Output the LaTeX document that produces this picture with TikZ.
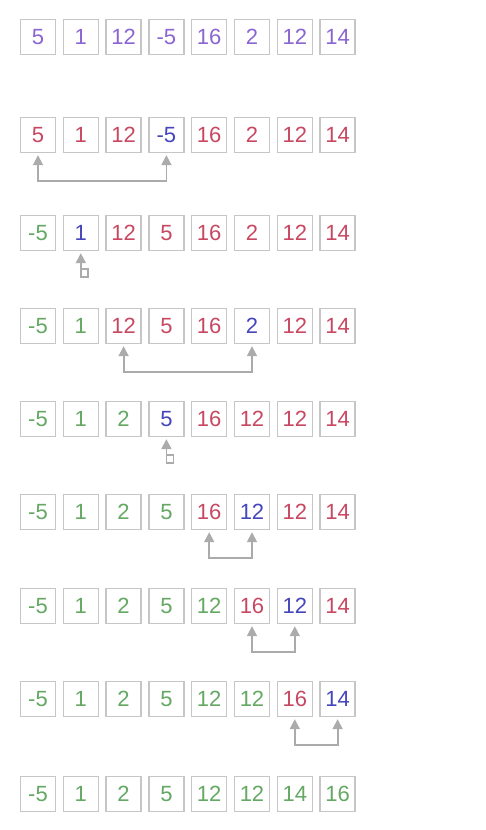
\documentclass[tikz,border=0pt]{standalone}
\usepackage{fontspec}
\setmainfont{Liberation Sans}
\usetikzlibrary{arrows.meta}
\definecolor{cpur}{HTML}{8A66D2}
\definecolor{cred}{HTML}{C84862}
\definecolor{cblu}{HTML}{4646BC}
\definecolor{cgrn}{HTML}{64A864}
\definecolor{cbox}{HTML}{C6C6C6}
\definecolor{carr}{HTML}{ABABAB}
\tikzset{
  cell/.style={draw=cbox, line width=1.4pt, minimum width=35pt, minimum height=35pt,
    inner sep=0pt, font=\fontsize{22}{22}\selectfont},
  P/.style={cell, text=cpur},
  R/.style={cell, text=cred},
  B/.style={cell, text=cblu},
  G/.style={cell, text=cgrn},
  swapline/.style={draw=carr, line width=1.8pt,
    {Triangle[width=10pt,length=10pt]}-{Triangle[width=10pt,length=10pt]}},
  selfline/.style={draw=carr, line width=1.8pt, {Triangle[width=10pt,length=10pt]}-},
  selfbox/.style={draw=carr, line width=1.5pt}
}
\newcommand{\xrow}[3]{%
  \foreach \st/\val [count=\j] in {#3} {%
    \pgfmathsetmacro{\xx}{38+42.8*(\j-1)}%
    \node[\st] (r#1c\j) at (\xx,#2) {\val};
  }%
}
\begin{document}
\begin{tikzpicture}[x=1pt,y=-1pt]
\useasboundingbox[fill=white] (0,0) rectangle (486,830);
\xrow{1}{37}{P/5,P/1,P/12,P/-5,P/16,P/2,P/12,P/14}
\xrow{2}{135}{R/5,R/1,R/12,B/-5,R/16,R/2,R/12,R/14}
\xrow{3}{233}{G/-5,B/1,R/12,R/5,R/16,R/2,R/12,R/14}
\xrow{4}{326}{G/-5,G/1,R/12,R/5,R/16,B/2,R/12,R/14}
\xrow{5}{419}{G/-5,G/1,G/2,B/5,R/16,R/12,R/12,R/14}
\xrow{6}{512}{G/-5,G/1,G/2,G/5,R/16,B/12,R/12,R/14}
\xrow{7}{606}{G/-5,G/1,G/2,G/5,G/12,R/16,B/12,R/14}
\xrow{8}{699}{G/-5,G/1,G/2,G/5,G/12,G/12,R/16,B/14}
\xrow{9}{794}{G/-5,G/1,G/2,G/5,G/12,G/12,G/14,G/16}
% swaps
\draw[swapline] ([yshift=-2pt]r2c1.south) -- ++(0,26) -| ([yshift=-2pt]r2c4.south);
\draw[swapline] ([yshift=-2pt]r4c3.south) -- ++(0,26) -| ([yshift=-2pt]r4c6.south);
\draw[swapline] ([yshift=-2pt]r6c5.south) -- ++(0,26) -| ([yshift=-2pt]r6c6.south);
\draw[swapline] ([yshift=-2pt]r7c6.south) -- ++(0,26) -| ([yshift=-2pt]r7c7.south);
\draw[swapline] ([yshift=-2pt]r8c7.south) -- ++(0,26) -| ([yshift=-2pt]r8c8.south);
% self swaps
\coordinate (s3) at ([yshift=-26pt]r3c2.south);
\draw[selfline] ([yshift=-2pt]r3c2.south) -- (s3);
\draw[selfbox] (s3) rectangle ++(7,-8);
\coordinate (s5) at ([yshift=-26pt]r5c4.south);
\draw[selfline] ([yshift=-2pt]r5c4.south) -- (s5);
\draw[selfbox] (s5) rectangle ++(7,-8);
\end{tikzpicture}
\end{document}
